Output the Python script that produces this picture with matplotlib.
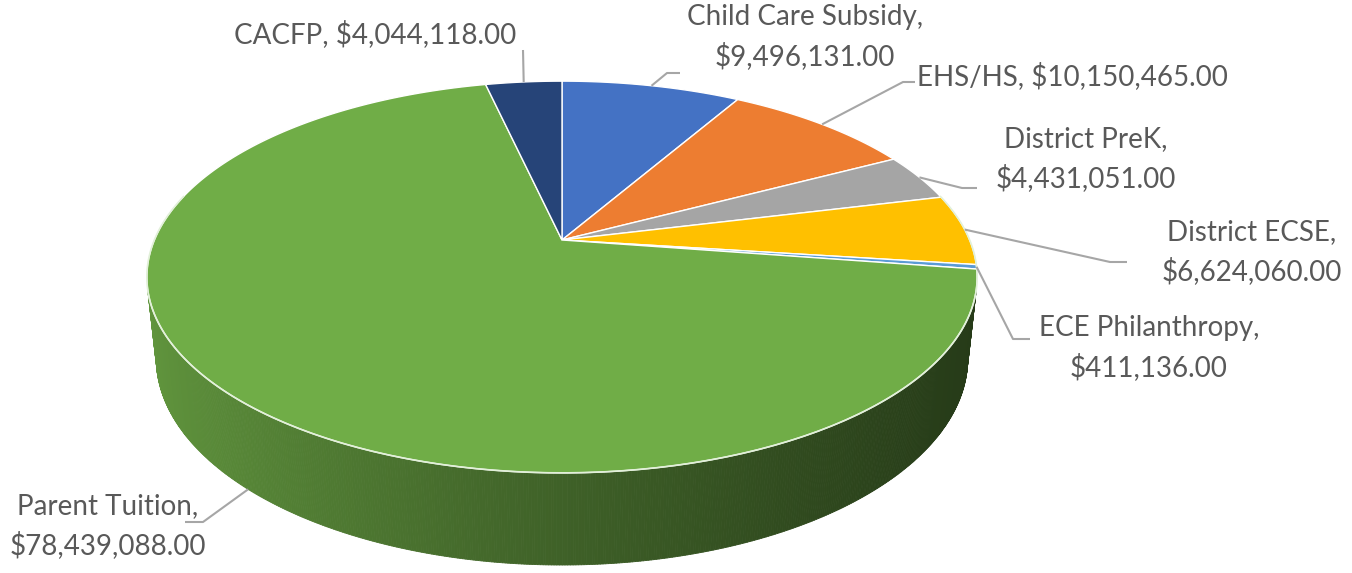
import numpy as np
import matplotlib
matplotlib.use('Agg')
import matplotlib.pyplot as plt
from matplotlib.collections import PolyCollection

# funding sources, clockwise from 12 o'clock
categories = ['Child Care Subsidy', 'EHS/HS', 'District PreK', 'District ECSE',
              'ECE Philanthropy', 'Parent Tuition', 'CACFP']
values = [9496131, 10150465, 4431051, 6624060, 411136, 78439088, 4044118]
colors = ['#4472C4', '#ED7D31', '#A5A5A5', '#FFC000', '#5B9BD5', '#70AD47', '#264478']
two_lines = [True, False, True, True, True, True, False]

# label layout (pixels): text centre, leader elbow, leader end
text_xy = [(805, 37), (917, 76), (1086, 159), (1252, 252), (1149, 348), (108, 526), (375, 34)]
text_ha = ['center', 'left', 'center', 'center', 'center', 'center', 'center']
elbows = [(667, 73), (903, 82), (962, 188), (1110, 262), (1013, 339), (203, 522), (523, 50)]
ends = [(680, 73), (915, 82), (977, 188), (1127, 262), (1030, 339), (185, 522), (523, 50)]

W, H = 1352, 573
fig = plt.figure(figsize=(W / 100, H / 100), dpi=100)
ax = fig.add_axes([0, 0, 1, 1])
ax.set_xlim(0, W)
ax.set_ylim(H, 0)
ax.axis('off')

# simple perspective camera for the 3d pie
tilt = np.radians(27.6)
cam = 4.69
focal = 1912
thick = 0.227
cx, cy = 562, 240


def proj(r, phi, z=0.0):
    x = r * np.cos(phi)
    y = r * np.sin(phi)
    depth = cam + np.cos(tilt) * y - np.sin(tilt) * z
    return cx + focal * x / depth, cy - focal * (np.sin(tilt) * y + np.cos(tilt) * z) / depth


vals = np.array(values, dtype=float)
frac = vals / vals.sum()
cum = np.concatenate([[0], np.cumsum(frac)])
phi_start = np.pi / 2 - 2 * np.pi * cum[:-1]
phi_end = np.pi / 2 - 2 * np.pi * cum[1:]
lim = -1 / (cam * np.cos(tilt))  # side wall faces the viewer when sin(phi) < lim

# side wall, shaded left to right
strips, strip_cols = [], []
for p0, p1, col in zip(phi_start, phi_end, colors):
    phis = np.linspace(p0, p1, max(3, int(abs(p1 - p0) * 180)))
    base = np.array(matplotlib.colors.to_rgb(col))
    for a, b in zip(phis[:-1], phis[1:]):
        if np.sin(a) < lim and np.sin(b) < lim:
            xa, ya = proj(1, a)
            xb, yb = proj(1, b)
            xa2, ya2 = proj(1, a, -thick)
            xb2, yb2 = proj(1, b, -thick)
            t = np.clip(((xa + xb) / 2 - 147) / 831, 0, 1)
            k = 0.86 - 0.52 * t ** 0.8
            strips.append([(xa, ya), (xb, yb), (xb2, yb2), (xa2, ya2)])
            strip_cols.append(base * k)
ax.add_collection(PolyCollection(strips, facecolors=strip_cols, edgecolors=strip_cols,
                                 linewidths=0.6, zorder=1))

# top face
for p0, p1, col in zip(phi_start, phi_end, colors):
    phis = np.linspace(p0, p1, max(3, int(abs(p1 - p0) * 90)))
    xs, ys = proj(1, phis)
    px = np.concatenate([[cx], xs])
    py = np.concatenate([[cy], ys])
    ax.fill(px, py, facecolor=col, edgecolor='white', linewidth=1.0, zorder=2)

# light rim where the top meets the wall
rim = np.linspace(np.pi + np.arcsin(lim), -np.arcsin(lim) + 2 * np.pi, 200) - 2 * np.pi
rx, ry = proj(1, rim)
ax.plot(rx, ry, color='#E2F0D9', lw=1.2, zorder=2.5)

# labels with leader lines
for i, name in enumerate(categories):
    mid = (phi_start[i] + phi_end[i]) / 2
    z = -thick if np.sin(mid) < lim else 0.0
    ax0, ay0 = proj(1, mid, z)
    ax.plot([ax0, elbows[i][0], ends[i][0]], [ay0, elbows[i][1], ends[i][1]],
            color='#A6A6A6', lw=1.5, zorder=3, solid_capstyle='butt')
    sep = ',\n' if two_lines[i] else ', '
    txt = f'{name}{sep}${values[i]:,.2f}'
    ax.text(text_xy[i][0], text_xy[i][1], txt, ha=text_ha[i], va='center',
            multialignment='center', fontsize=20, family='Lato', color='#595959',
            linespacing=1.55, zorder=4)

fig.savefig('out.png', dpi=100)
